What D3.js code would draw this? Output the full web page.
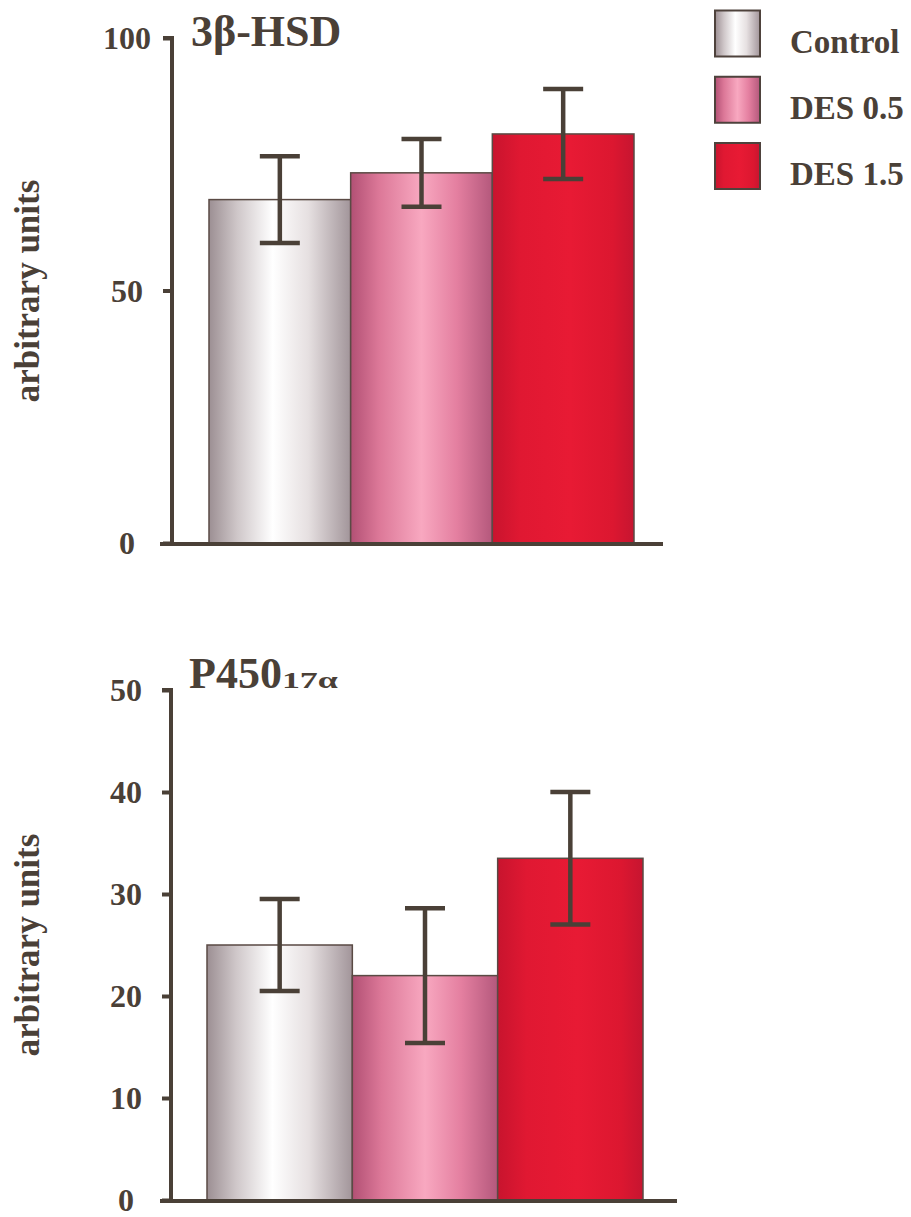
<!DOCTYPE html>
<html>
<head>
<meta charset="utf-8">
<script src="https://cdn.jsdelivr.net/npm/d3@7"></script>
<style>
  html, body { margin: 0; padding: 0; background: #fff; }
  svg { display: block; }
  text { font-family: "Liberation Serif", "Times New Roman", serif; font-weight: bold; fill: #4a4037; }
</style>
</head>
<body>
<svg id="chart" width="911" height="1217"></svg>
<script>
// Treatment groups
const groups = ["Control", "DES 0.5", "DES 1.5"];

// 3β-HSD expression (arbitrary units): mean and error
const hsdMean = [68, 73.3, 81];
const hsdErr  = [8.6, 6.7, 8.9];
const hsdTicks = [0, 50, 100];

// P450 17α expression (arbitrary units): mean and error
const p450Mean = [25, 22, 33.5];
const p450Err  = [4.5, 6.6, 6.5];
const p450Ticks = [0, 10, 20, 30, 40, 50];

const ink = "#4a4037";
const svg = d3.select("#chart");

// Horizontal shading for each group's bars
const shades = [
  [["0%", "#9c8f93"], ["20%", "#cfc7c9"], ["45%", "#ffffff"], ["70%", "#e6e0e1"], ["100%", "#a2959a"]],
  [["0%", "#b25074"], ["20%", "#dc7898"], ["50%", "#f8a8c0"], ["75%", "#e47fa0"], ["100%", "#b4587c"]],
  [["0%", "#c8142e"], ["20%", "#e01832"], ["55%", "#e81a34"], ["85%", "#dc1730"], ["100%", "#c61530"]]
];
const defs = svg.append("defs");
shades.forEach((stops, i) => {
  const g = defs.append("linearGradient").attr("id", "shade" + i)
    .attr("x1", "0%").attr("x2", "100%").attr("y1", "0%").attr("y2", "0%");
  stops.forEach(([o, c]) => g.append("stop").attr("offset", o).attr("stop-color", c));
});

function panel(cfg) {
  const y = d3.scaleLinear().domain([0, cfg.max]).range([cfg.y0, cfg.y1]);
  const x = d3.scaleBand().domain(groups).range([cfg.xb0, cfg.xb1]).padding(0);
  const g = svg.append("g");

  // bars
  g.selectAll("rect.bar").data(groups).join("rect")
    .attr("class", "bar")
    .attr("x", d => x(d))
    .attr("width", x.bandwidth())
    .attr("y", (d, i) => y(cfg.mean[i]))
    .attr("height", (d, i) => y(0) - y(cfg.mean[i]))
    .attr("fill", (d, i) => `url(#shade${i})`)
    .attr("stroke", "#5a4a44").attr("stroke-width", 1.5);

  // error bars
  const eb = g.selectAll("g.err").data(groups).join("g").attr("class", "err");
  const cx = d => x(d) + x.bandwidth() / 2;
  eb.append("line")
    .attr("x1", cx).attr("x2", cx)
    .attr("y1", (d, i) => y(cfg.mean[i] + cfg.err[i]))
    .attr("y2", (d, i) => y(cfg.mean[i] - cfg.err[i]))
    .attr("stroke", ink).attr("stroke-width", 4.5);
  [1, -1].forEach(s => {
    eb.append("line")
      .attr("x1", d => cx(d) - 20).attr("x2", d => cx(d) + 20)
      .attr("y1", (d, i) => y(cfg.mean[i] + s * cfg.err[i]))
      .attr("y2", (d, i) => y(cfg.mean[i] + s * cfg.err[i]))
      .attr("stroke", ink).attr("stroke-width", 4.5);
  });

  // y axis
  const ax = g.append("g").attr("transform", `translate(${cfg.ax},0)`)
    .call(d3.axisLeft(y).tickValues(cfg.ticks).tickSize(9).tickFormat(d3.format("d")));
  ax.select(".domain").attr("stroke", ink).attr("stroke-width", 4)
    .attr("d", `M-9,${y(cfg.max)}H0V${y(0) + 2}`);
  ax.selectAll(".tick line").attr("stroke", ink).attr("stroke-width", 4);
  ax.selectAll(".tick text")
    .attr("x", -45).attr("text-anchor", "middle").attr("dy", "0.34em")
    .style("font-size", "32px").attr("fill", ink)
    .attr("font-family", "Liberation Serif").attr("font-weight", "bold");

  // x baseline
  g.append("line")
    .attr("x1", cfg.xl0).attr("x2", cfg.xl1)
    .attr("y1", y(0) + 1).attr("y2", y(0) + 1)
    .attr("stroke", ink).attr("stroke-width", 4);

  // y label
  g.append("text")
    .attr("transform", `translate(27,${cfg.labelY}) rotate(-90)`)
    .attr("text-anchor", "middle").attr("dy", "0.35em")
    .style("font-size", "35px")
    .text("arbitrary units");

  return g;
}

const hsdPanel = panel({
  mean: hsdMean, err: hsdErr, ticks: hsdTicks, max: 100,
  y0: 543, y1: 38, ax: 172, xb0: 209, xb1: 634, xl0: 160, xl1: 663, labelY: 291
});
hsdPanel.append("text").attr("x", 191).attr("y", 46).style("font-size", "44px").text("3β-HSD");

const p450Panel = panel({
  mean: p450Mean, err: p450Err, ticks: p450Ticks, max: 50,
  y0: 1200, y1: 690, ax: 171, xb0: 207, xb1: 643, xl0: 160, xl1: 677, labelY: 945
});
const t2 = p450Panel.append("text").attr("x", 189).attr("y", 688).style("font-size", "44px");
t2.append("tspan").text("P450");
t2.append("tspan").style("font-size", "24px")
  .attr("textLength", 56).attr("lengthAdjust", "spacingAndGlyphs")
  .text("17α");

// legend
const leg = svg.append("g");
const ly = d3.scalePoint().domain(groups).range([33.5, 166]);
leg.selectAll("rect").data(groups).join("rect")
  .attr("x", 715).attr("width", 45)
  .attr("y", d => ly(d) - 23).attr("height", 46)
  .attr("fill", (d, i) => `url(#shade${i})`)
  .attr("stroke", "#4e423c").attr("stroke-width", 2);
leg.selectAll("text").data(groups).join("text")
  .attr("x", 790).attr("y", d => ly(d) + 19)
  .style("font-size", "33px")
  .text(d => d);
</script>
</body>
</html>
